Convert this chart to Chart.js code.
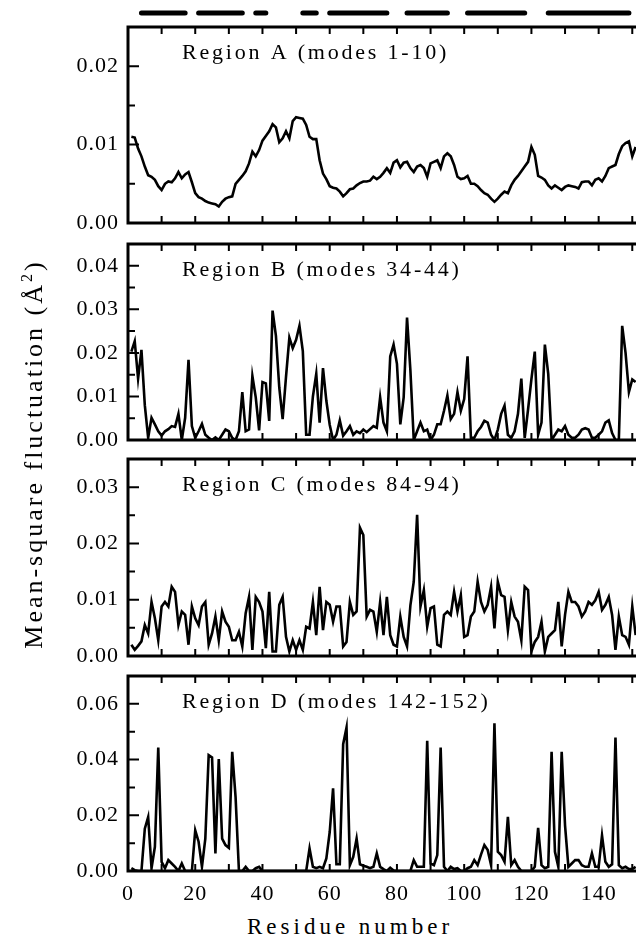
<!DOCTYPE html>
<html>
<head>
<meta charset="utf-8">
<script src="https://cdn.jsdelivr.net/npm/chart.js@4.4.0/dist/chart.umd.min.js"></script>
<style>
  html, body { margin: 0; padding: 0; background: #fff; }
  body { width: 636px; height: 938px; position: relative; overflow: hidden; color: #000;
         font-family: "Liberation Serif", "Times New Roman", Times, "DejaVu Serif", "Noto Serif", serif; }
  canvas { position: absolute; left: 0; }
  .ytitle {
    position: absolute; left: -176px; top: 439px; width: 420px; height: 30px; line-height: 30px;
    text-align: center; white-space: nowrap; font-size: 26px; letter-spacing: 3px;
    transform: rotate(-90deg); transform-origin: center;
  }
  .ytitle sup { font-size: 16px; vertical-align: 10px; line-height: 0; }
  .xtitle {
    position: absolute; left: 247px; top: 914px; line-height: 26px; white-space: nowrap;
    font-size: 23px; letter-spacing: 4px;
  }
</style>
</head>
<body>
<canvas id="ss" width="640" height="26" style="top:0px"></canvas>
<canvas id="pA" width="640" height="216" style="top:17px"></canvas>
<canvas id="pB" width="640" height="216" style="top:234px"></canvas>
<canvas id="pC" width="640" height="217" style="top:449px"></canvas>
<canvas id="pD" width="640" height="244" style="top:666px"></canvas>
<div class="ytitle">Mean-square fluctuation (Å<sup>2</sup>)</div>
<div class="xtitle">Residue number</div>
<script>
const FONT = '"Liberation Serif", "Times New Roman", Times, "DejaVu Serif", "Noto Serif", serif';

// residue numbers (x)
const residues = Array.from({ length: 151 }, (_, i) => i + 1);
const xMax = 152;
const xTicks = [0, 10, 20, 30, 40, 50, 60, 70, 80, 90, 100, 110, 120, 130, 140, 150];

// secondary structure segments (residue ranges)
const ssStart = [4, 21, 38, 52, 60, 83, 101, 125];
const ssEnd = [17, 34, 41, 56, 77, 95, 118, 149];

const titles = ['Region A (modes 1-10)', 'Region B (modes 34-44)', 'Region C (modes 84-94)', 'Region D (modes 142-152)'];

const msfA = [
  .0110, .0109, .0095, .0085, .0072, .0061, .0059, .0055, .0047, .0042,
  .0050, .0053, .0052, .0057, .0065, .0057, .0062, .0065, .0052, .0038,
  .0033, .0031, .0028, .0026, .0025, .0024, .0021, .0027, .0031, .0033,
  .0034, .0050, .0055, .0060, .0066, .0076, .0091, .0085, .0093, .0105,
  .0111, .0117, .0126, .0122, .0103, .0108, .0117, .0108, .0130, .0135,
  .0134, .0133, .0125, .0110, .0107, .0107, .0080, .0063, .0056, .0047,
  .0045, .0044, .0040, .0034, .0038, .0043, .0044, .0048, .0051, .0053,
  .0053, .0054, .0059, .0056, .0059, .0064, .0070, .0064, .0077, .0080,
  .0071, .0077, .0078, .0070, .0065, .0072, .0074, .0070, .0059, .0076,
  .0078, .0080, .0070, .0085, .0089, .0085, .0074, .0059, .0056, .0057,
  .0060, .0050, .0050, .0047, .0042, .0038, .0036, .0031, .0027, .0031,
  .0036, .0040, .0038, .0048, .0055, .0060, .0066, .0072, .0078, .0097,
  .0087, .0060, .0058, .0055, .0048, .0044, .0048, .0045, .0042, .0046,
  .0048, .0047, .0046, .0044, .0052, .0053, .0053, .0048, .0055, .0057,
  .0053, .0060, .0070, .0072, .0074, .0088, .0098, .0102, .0104, .0085,
  .0097
];

const msfB = [
  .0203, .0227, .0141, .0207, .0080, .0005, .0051, .0036, .0020, .0010,
  .0020, .0025, .0032, .0030, .0060, .0000, .0051, .0184, .0032, .0005,
  .0020, .0037, .0012, .0005, .0000, .0006, .0000, .0012, .0024, .0020,
  .0005, .0000, .0020, .0110, .0020, .0024, .0147, .0098, .0022, .0133,
  .0130, .0044, .0297, .0239, .0120, .0048, .0145, .0235, .0211, .0230,
  .0262, .0204, .0012, .0012, .0100, .0152, .0040, .0165, .0090, .0035,
  .0000, .0012, .0045, .0010, .0020, .0032, .0012, .0020, .0016, .0024,
  .0018, .0025, .0032, .0028, .0098, .0040, .0020, .0192, .0219, .0175,
  .0036, .0098, .0281, .0160, .0000, .0020, .0040, .0020, .0024, .0000,
  .0012, .0036, .0036, .0067, .0102, .0048, .0060, .0110, .0067, .0094,
  .0192, .0005, .0005, .0020, .0030, .0044, .0040, .0012, .0000, .0024,
  .0060, .0079, .0012, .0005, .0020, .0060, .0141, .0005, .0070, .0140,
  .0203, .0012, .0040, .0219, .0152, .0000, .0012, .0024, .0020, .0032,
  .0012, .0005, .0005, .0012, .0024, .0027, .0024, .0005, .0005, .0012,
  .0020, .0040, .0045, .0016, .0000, .0000, .0262, .0200, .0110, .0139,
  .0133
];

const msfC = [
  .0020, .0011, .0018, .0026, .0055, .0040, .0096, .0067, .0028, .0088,
  .0096, .0088, .0123, .0114, .0055, .0079, .0073, .0020, .0088, .0067,
  .0055, .0088, .0096, .0020, .0040, .0070, .0028, .0079, .0061, .0052,
  .0028, .0028, .0043, .0017, .0076, .0105, .0011, .0105, .0096, .0079,
  .0014, .0114, .0008, .0008, .0091, .0105, .0034, .0008, .0028, .0011,
  .0028, .0011, .0052, .0049, .0096, .0037, .0123, .0046, .0096, .0091,
  .0061, .0088, .0088, .0017, .0025, .0096, .0073, .0079, .0228, .0215,
  .0070, .0082, .0079, .0043, .0096, .0037, .0105, .0037, .0020, .0017,
  .0070, .0034, .0017, .0090, .0132, .0251, .0088, .0117, .0052, .0085,
  .0088, .0020, .0017, .0073, .0079, .0073, .0114, .0079, .0108, .0034,
  .0037, .0070, .0079, .0132, .0096, .0079, .0091, .0123, .0049, .0132,
  .0108, .0105, .0046, .0096, .0070, .0061, .0028, .0123, .0117, .0008,
  .0025, .0034, .0061, .0008, .0034, .0040, .0046, .0096, .0017, .0073,
  .0114, .0096, .0096, .0088, .0070, .0079, .0096, .0091, .0099, .0114,
  .0082, .0091, .0105, .0073, .0011, .0070, .0037, .0034, .0020, .0088,
  .0037
];

const msfD = [
  .0010, .0003, .0000, .0000, .0152, .0194, .0010, .0087, .0443, .0033,
  .0010, .0039, .0027, .0015, .0000, .0027, .0000, .0000, .0000, .0146,
  .0105, .0015, .0116, .0416, .0408, .0063, .0402, .0116, .0093, .0083,
  .0428, .0265, .0000, .0000, .0015, .0000, .0000, .0010, .0015, .0000,
  .0000, .0000, .0000, .0000, .0000, .0000, .0000, .0000, .0000, .0000,
  .0000, .0000, .0000, .0081, .0015, .0010, .0015, .0010, .0045, .0140,
  .0297, .0024, .0024, .0455, .0515, .0021, .0051, .0116, .0024, .0019,
  .0015, .0010, .0015, .0063, .0015, .0007, .0000, .0012, .0002, .0000,
  .0000, .0000, .0000, .0000, .0039, .0015, .0015, .0015, .0467, .0027,
  .0021, .0057, .0443, .0015, .0000, .0015, .0007, .0010, .0000, .0000,
  .0010, .0015, .0039, .0021, .0059, .0093, .0075, .0021, .0530, .0069,
  .0057, .0033, .0194, .0021, .0039, .0015, .0000, .0000, .0000, .0000,
  .0015, .0155, .0021, .0010, .0015, .0428, .0069, .0015, .0428, .0164,
  .0015, .0027, .0039, .0039, .0021, .0015, .0015, .0063, .0015, .0015,
  .0128, .0033, .0015, .0024, .0479, .0021, .0010, .0015, .0007, .0007,
  .0015
];

Chart.defaults.font.family = FONT;
Chart.defaults.font.size = 22;
Chart.defaults.color = '#000';

const framePlugin = {
  id: 'frame',
  beforeDraw(chart) {
    chart.ctx.letterSpacing = '1px';
  },
  afterDatasetsDraw(chart, args, opts) {
    const { ctx, chartArea: a, scales } = chart;
    ctx.save();
    ctx.strokeStyle = '#000';
    ctx.lineWidth = 3;
    ctx.strokeRect(a.left, a.top, a.right - a.left, a.bottom - a.top);
    ctx.lineWidth = 2;
    ctx.beginPath();
    xTicks.forEach(v => {
      const px = scales.x.getPixelForValue(v);
      if (px <= a.left + 1) return;
      ctx.moveTo(px, a.top); ctx.lineTo(px, a.top + 7);
      ctx.moveTo(px, a.bottom); ctx.lineTo(px, a.bottom - 7);
    });
    scales.y.ticks.forEach(t => {
      const py = scales.y.getPixelForValue(t.value);
      const len = t.label !== '' ? 11 : 7;
      ctx.moveTo(a.left, py); ctx.lineTo(a.left + len, py);
    });
    ctx.stroke();
    ctx.font = '22px ' + FONT;
    ctx.letterSpacing = '2.8px';
    ctx.fillStyle = '#000';
    ctx.textBaseline = 'alphabetic';
    ctx.textAlign = 'left';
    ctx.fillText(opts.text, a.left + 54, a.top + 31.5);
    ctx.restore();
  }
};

function makePanel(id, values, yMax, major, title, showX) {
  const minor = major / 2;
  return new Chart(document.getElementById(id), {
    type: 'line',
    data: {
      datasets: [{
        data: residues.map((r, i) => ({ x: r, y: values[i] })),
        borderColor: '#000',
        borderWidth: 2.6,
        pointRadius: 0,
        tension: 0,
        fill: false
      }]
    },
    options: {
      responsive: false,
      animation: false,
      events: [],
      layout: { padding: { top: 10, bottom: showX ? 0 : 10, left: 0, right: 1 } },
      plugins: {
        legend: { display: false },
        tooltip: { enabled: false },
        frame: { text: title }
      },
      scales: {
        x: {
          type: 'linear', min: 0, max: xMax,
          grid: { display: false, drawTicks: false },
          border: { display: false },
          afterBuildTicks: s => { s.ticks = xTicks.map(v => ({ value: v })); },
          ticks: {
            display: showX, autoSkip: false, maxRotation: 0, padding: 10,
            callback: v => (v % 20 === 0 ? String(v) : '')
          },
          afterFit: s => { s.height = showX ? 39 : 0; s.paddingLeft = 0; s.paddingRight = 0; }
        },
        y: {
          min: 0, max: yMax,
          grid: { display: false, drawTicks: false },
          border: { display: false },
          ticks: {
            stepSize: minor, autoSkip: false, padding: 9,
            callback: v => (Math.round(v / minor) % 2 === 0 ? v.toFixed(2) : '')
          },
          afterFit: s => { s.width = 128; s.paddingTop = 0; s.paddingBottom = 0; }
        }
      }
    },
    plugins: [framePlugin]
  });
}

makePanel('pA', msfA, 0.025, 0.01, titles[0], false);
makePanel('pB', msfB, 0.045, 0.01, titles[1], false);
makePanel('pC', msfC, 0.035, 0.01, titles[2], false);
makePanel('pD', msfD, 0.07, 0.02, titles[3], true);

new Chart(document.getElementById('ss'), {
  type: 'line',
  data: {
    datasets: ssStart.map((s, i) => ({
      data: [{ x: s, y: 0 }, { x: ssEnd[i], y: 0 }],
      borderColor: '#000',
      borderWidth: 5,
      borderCapStyle: 'round',
      pointRadius: 0
    }))
  },
  options: {
    responsive: false,
    animation: false,
    events: [],
    layout: { padding: { left: 128, right: 1, top: 0, bottom: 0 } },
    plugins: { legend: { display: false }, tooltip: { enabled: false } },
    scales: {
      x: { type: 'linear', min: 0, max: xMax, display: false },
      y: { min: -1, max: 1, display: false }
    }
  }
});
</script>
</body>
</html>
